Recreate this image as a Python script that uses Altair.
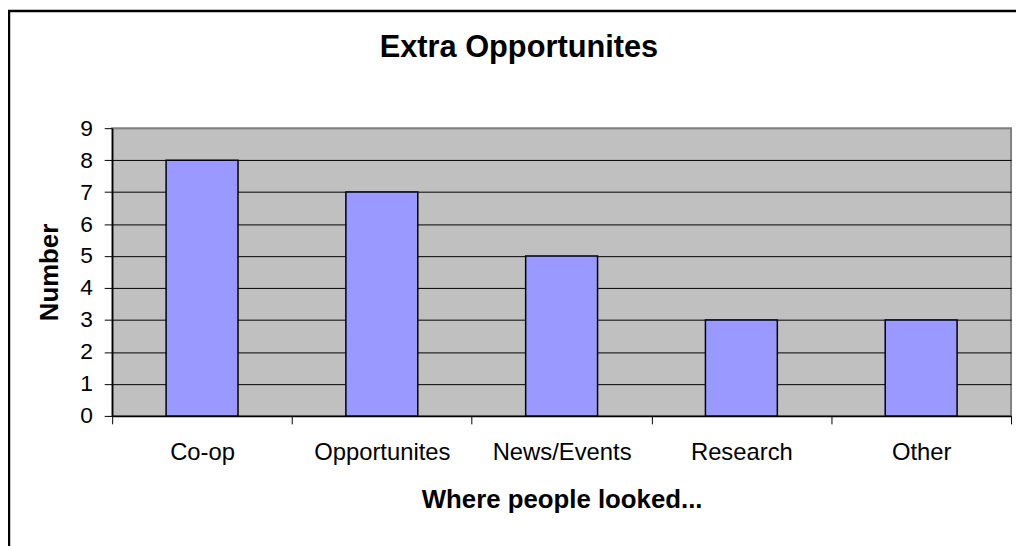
import altair as alt
import pandas as pd

categories = ["Co-op", "Opportunites", "News/Events", "Research", "Other"]
values = [8, 7, 5, 3, 3]
y_ticks = [0, 1, 2, 3, 4, 5, 6, 7, 8, 9]
chart_title = "Extra Opportunites"

df = pd.DataFrame({"cat": categories, "val": values})

FONT = "Liberation Sans"

frame = alt.Chart(pd.DataFrame({"a": [0]})).mark_rect(
    fillOpacity=0, stroke="black", strokeWidth=2.5, clip=False
).encode(
    x=alt.value(-104), x2=alt.value(3000),
    y=alt.value(-118), y2=alt.value(3000)
)

title = alt.Chart(pd.DataFrame({"t": [chart_title]})).mark_text(
    font=FONT, fontSize=31, fontWeight="bold", color="black",
    align="center", baseline="alphabetic", clip=False
).encode(
    text="t:N", x=alt.value(410), y=alt.value(-72)
)

bars = alt.Chart(df).mark_bar(
    color="#9999FF", stroke="black", strokeWidth=1.5,
    width=alt.RelativeBandSize(0.4)
).encode(
    x=alt.X("cat:N", sort=categories,
            scale=alt.Scale(paddingInner=0, paddingOuter=0),
            axis=alt.Axis(title="Where people looked...", labelAngle=0,
                          tickBand="extent", tickSize=8, tickColor="black",
                          domainColor="black", domainWidth=1.5,
                          labelFont=FONT, labelFontSize=24, labelColor="black",
                          labelPadding=17,
                          titleFont=FONT, titleFontSize=26, titleFontWeight="bold",
                          titleColor="black", titlePadding=22)),
    y=alt.Y("val:Q", scale=alt.Scale(domain=[0, 9], nice=False, zero=True),
            axis=alt.Axis(title="Number", values=y_ticks, tickSize=8,
                          tickColor="black", domainColor="black", domainWidth=1.5,
                          grid=True,
                          gridColor=alt.condition("datum.value == 9",
                                                  alt.value("#808080"),
                                                  alt.value("black")),
                          gridWidth=1,
                          labelFont=FONT, labelFontSize=23, labelColor="black",
                          labelPadding=12,
                          titleFont=FONT, titleFontSize=26, titleFontWeight="bold",
                          titleColor="black", titlePadding=17))
)

chart = alt.layer(frame, bars, title).properties(
    width=906,
    height=290,
    padding={"left": 105, "top": 119, "right": 5, "bottom": 129},
    autosize=alt.AutoSizeParams(type="none"),
    background="white",
).configure_view(
    fill="#C0C0C0", stroke="#808080", strokeWidth=2
)

chart.save("out.html", embed_options={"renderer": "svg", "actions": False})
